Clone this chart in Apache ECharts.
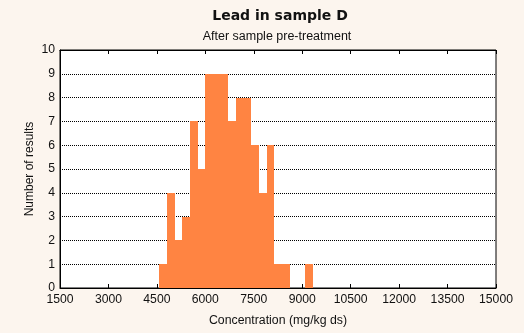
<!DOCTYPE html>
<html><head><meta charset="utf-8">
<script src="https://cdn.jsdelivr.net/npm/echarts@6/dist/echarts.min.js"></script>
<style>html,body{margin:0;padding:0;background:#FCF5EE;}#c{width:524px;height:333px;}</style>
</head><body><div id="c"></div>
<script>
const binEdges = [4570, 4808, 5046, 5284, 5522, 5760, 5998, 6236, 6474, 6712, 6950, 7188, 7426, 7664, 7902, 8140, 8378, 8616, 8854, 9092, 9330];
const counts = [1, 4, 2, 3, 7, 5, 9, 9, 9, 7, 8, 8, 6, 4, 6, 1, 1, 0, 0, 1];
const xTicks = [1500, 3000, 4500, 6000, 7500, 9000, 10500, 12000, 13500, 15000];
const yTicks = [0, 1, 2, 3, 4, 5, 6, 7, 8, 9, 10];

const data = counts.map((c, i) => [binEdges[i], binEdges[i + 1], c]);
const font = '"Liberation Sans", Arial, sans-serif';
const chart = echarts.init(document.getElementById('c'), null, {renderer: 'canvas'});
chart.setOption({
  backgroundColor: '#FCF5EE',
  animation: false,
  title: [{
    text: 'Lead in sample D',
    left: 275, textAlign: 'center', top: 4,
    textStyle: {fontFamily: '"DejaVu Sans", sans-serif', fontSize: 14, fontWeight: 'bold', color: '#111'}
  }, {
    text: 'After sample pre-treatment',
    left: 272, textAlign: 'center', top: 25,
    textStyle: {fontFamily: font, fontSize: 12.5, fontWeight: 'normal', color: '#111'}
  }],
  grid: {left: 60, right: 28, top: 50, bottom: 45, show: true, backgroundColor: '#fff', borderColor: '#000', borderWidth: 1},
  xAxis: [{
    type: 'value', min: xTicks[0], max: xTicks[xTicks.length - 1], interval: 1500,
    name: 'Concentration (mg/kg ds)', nameLocation: 'middle', nameGap: 27, nameMoveOverlap: false,
    nameTextStyle: {fontFamily: font, fontSize: 12.3, color: '#111'},
    axisLine: {show: true, lineStyle: {color: '#000'}},
    axisTick: {show: true, inside: true, length: 4, lineStyle: {color: '#000'}},
    axisLabel: {fontFamily: font, fontSize: 12.2, color: '#111', margin: 6, formatter: v => String(v)},
    splitLine: {show: false}
  }, {
    type: 'value', position: 'top', min: xTicks[0], max: xTicks[xTicks.length - 1], interval: 1500,
    axisLine: {show: true, lineStyle: {color: '#000'}},
    axisTick: {show: true, inside: true, length: 4, lineStyle: {color: '#000'}},
    axisLabel: {show: false}, splitLine: {show: false}
  }],
  yAxis: {
    type: 'value', min: yTicks[0], max: yTicks[yTicks.length - 1], interval: 1,
    name: 'Number of results', nameLocation: 'middle', nameGap: 24, nameMoveOverlap: false,
    nameTextStyle: {fontFamily: font, fontSize: 12, color: '#111'},
    axisLine: {show: true, lineStyle: {color: '#000'}},
    axisTick: {show: false},
    axisLabel: {fontFamily: font, fontSize: 12.2, color: '#111', margin: 5, formatter: v => String(v)},
    splitLine: {show: true, lineStyle: {color: '#000', type: [1, 1], width: 1}}
  },
  series: [{
    type: 'custom',
    data: data,
    encode: {x: [0, 1], y: 2},
    renderItem: function (params, api) {
      const p0 = api.coord([api.value(0), api.value(2)]);
      const p1 = api.coord([api.value(1), 0]);
      const x0 = Math.round(p0[0]), x1 = Math.round(p1[0]);
      const y0 = Math.round(p0[1]), y1 = Math.round(p1[1]);
      return {
        type: 'rect',
        shape: {x: x0, y: y0, width: x1 - x0, height: y1 - y0},
        style: {fill: '#FF8442'}
      };
    },
    z: 5
  }]
});
</script></body></html>
